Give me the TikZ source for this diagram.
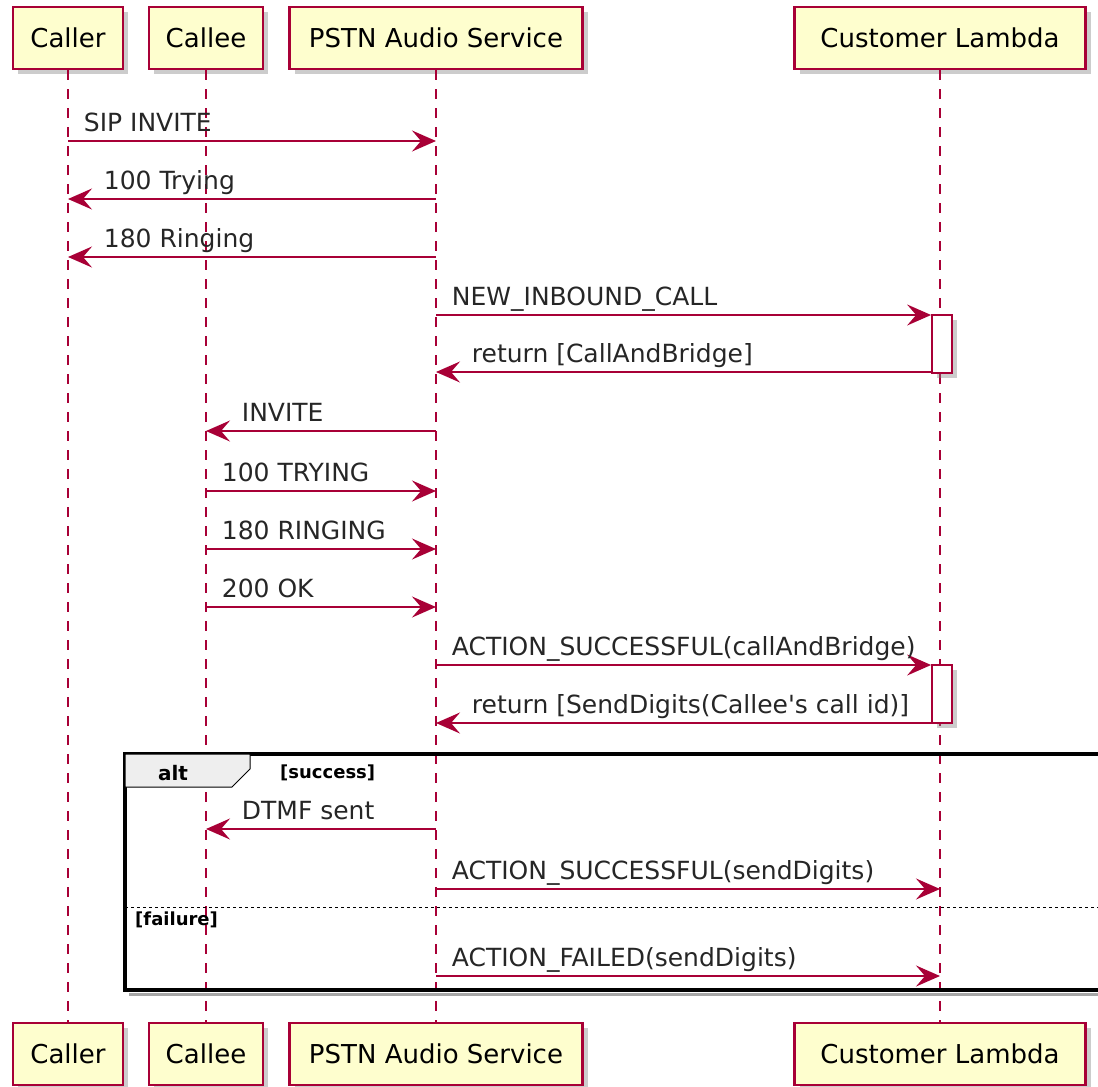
\documentclass[tikz,border=0pt]{standalone}
\usepackage{fontspec}
\setmainfont{DejaVu Sans}[Ligatures=TeXOff]
\usetikzlibrary{arrows.meta,shadows}
\definecolor{umlred}{HTML}{A80036}
\definecolor{umlfill}{HTML}{FEFECE}
\definecolor{umltab}{HTML}{EEEEEE}

\begin{document}
\begin{tikzpicture}[x=1pt, y=-1pt,
  party/.style={draw=umlred, fill=umlfill, line width=2.5pt, minimum height=62pt, inner sep=0pt,
    font=\fontsize{26}{30}\selectfont, drop shadow={shadow xshift=5pt, shadow yshift=-5pt, opacity=0.4}},
  life/.style={umlred, line width=1.6pt, dash pattern=on 10pt off 9pt},
  actbar/.style={draw=umlred, fill=white, line width=1.8pt, minimum width=20pt, minimum height=58pt,
    inner sep=0pt, drop shadow={shadow xshift=5pt, shadow yshift=-5pt, opacity=0.4}},
  msg/.style={umlred, line width=1.8pt, -{Stealth[length=24pt, width=21pt, inset=9pt]}},
  lbl/.style={text=black!85, font=\fontsize{25}{30}\selectfont, inner sep=0pt, anchor=base west, yshift=10pt},
  tolbl/.style={lbl, pos=0, xshift=15pt},
  backlbl/.style={lbl, pos=1, xshift=35pt},
  guard/.style={font=\bfseries\fontsize{18}{22}\selectfont, inner sep=0pt, anchor=base west}]
  \useasboundingbox (0,0) rectangle (1098,1087);
  % participants, top and bottom
  \node[party, minimum width=110pt] (caller) at (68,38) {Caller};
  \node[party, minimum width=114pt] (callee) at (206,38) {Callee};
  \node[party, minimum width=293pt] (pstn) at (436,38) {PSTN Audio Service};
  \node[party, minimum width=291pt] (lambda) at (940,38) {Customer Lambda};
  \node[party, minimum width=110pt] (callerB) at (68,1054) {Caller};
  \node[party, minimum width=114pt] (calleeB) at (206,1054) {Callee};
  \node[party, minimum width=293pt] (pstnB) at (436,1054) {PSTN Audio Service};
  \node[party, minimum width=291pt] (lambdaB) at (940,1054) {Customer Lambda};
  % lifelines
  \draw[life] (caller.south) -- (callerB.north);
  \draw[life] (callee.south) -- (calleeB.north);
  \draw[life] (pstn.south) -- (pstnB.north);
  \draw[life] (lambda.south) -- (lambdaB.north);
  % activations of the lambda
  \node[actbar] (act1) at (942,344) {};
  \node[actbar] (act2) at (942,694) {};
  % message rows
  \coordinate (r1) at (0,141);  \coordinate (r2) at (0,199);  \coordinate (r3) at (0,257);
  \coordinate (r4) at (0,315);  \coordinate (r5) at (0,372);  \coordinate (r6) at (0,431);
  \coordinate (r7) at (0,491);  \coordinate (r8) at (0,549);  \coordinate (r9) at (0,607);
  \coordinate (r10) at (0,665); \coordinate (r11) at (0,723); \coordinate (r12) at (0,829);
  \coordinate (r13) at (0,889); \coordinate (r14) at (0,976);
  % call setup
  \draw[msg] (caller |- r1) -- (pstn |- r1) node[tolbl] {SIP INVITE};
  \draw[msg] (pstn |- r2) -- (caller |- r2) node[backlbl] {100 Trying};
  \draw[msg] (pstn |- r3) -- (caller |- r3) node[backlbl] {180 Ringing};
  \draw[msg] (pstn |- r4) -- (act1.west |- r4) node[tolbl] {NEW\_INBOUND\_CALL};
  \draw[msg] (act1.west |- r5) -- (pstn |- r5) node[backlbl] {return [CallAndBridge]};
  \draw[msg] (pstn |- r6) -- (callee |- r6) node[backlbl] {INVITE};
  \draw[msg] (callee |- r7) -- (pstn |- r7) node[tolbl] {100 TRYING};
  \draw[msg] (callee |- r8) -- (pstn |- r8) node[tolbl] {180 RINGING};
  \draw[msg] (callee |- r9) -- (pstn |- r9) node[tolbl] {200 OK};
  \draw[msg] (pstn |- r10) -- (act2.west |- r10) node[tolbl] {ACTION\_SUCCESSFUL(callAndBridge)};
  \draw[msg] (act2.west |- r11) -- (pstn |- r11) node[backlbl] {return [SendDigits(Callee's call id)]};
  % alt frame
  \draw[black!35, line width=3pt] (129,994) -- (1115,994);
  \draw[black, line width=3.5pt] (125,754) rectangle (1115,990);
  \draw[fill=umltab, line width=1pt] (125,754) -- (250,754) -- (250,769) -- (232,787) -- (125,787) -- cycle;
  \node[font=\bfseries\fontsize{20}{24}\selectfont, inner sep=0pt, anchor=base] (altTag) at (173,780) {alt};
  \node[guard] (okGuard) at (280,778) {[success]};
  \draw[line width=1pt, dash pattern=on 3pt off 3pt] (125,907) -- (1115,907);
  \node[guard] (failGuard) at (135,925) {[failure]};
  \draw[msg] (pstn |- r12) -- (callee |- r12) node[backlbl] {DTMF sent};
  \draw[msg] (pstn |- r13) -- (lambda |- r13) node[tolbl] {ACTION\_SUCCESSFUL(sendDigits)};
  \draw[msg] (pstn |- r14) -- (lambda |- r14) node[tolbl] {ACTION\_FAILED(sendDigits)};
\end{tikzpicture}
\end{document}
